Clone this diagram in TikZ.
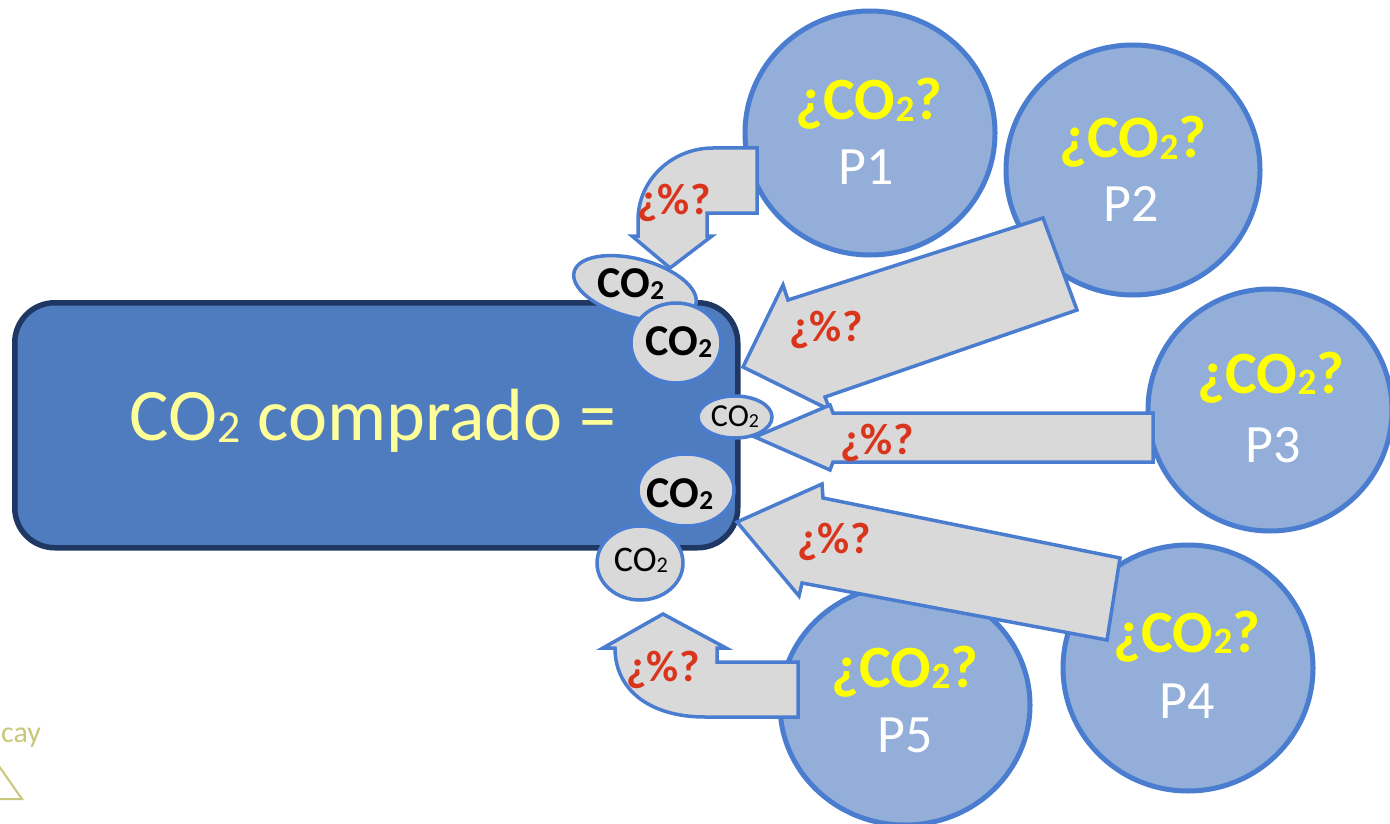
\documentclass[tikz,border=0pt]{standalone}
\usepackage{fontspec}
\setmainfont{Carlito}
\usetikzlibrary{shapes.geometric}
\definecolor{boxfill}{HTML}{4F7BBF}
\definecolor{boxdraw}{HTML}{1F3763}
\definecolor{circfill}{HTML}{93AFD9}
\definecolor{blueline}{HTML}{4A7DD0}
\definecolor{grayfill}{HTML}{D9D9D9}
\definecolor{qred}{HTML}{D9341C}
\definecolor{qyellow}{HTML}{FFFF00}
\definecolor{paleyellow}{HTML}{FFFF99}
\definecolor{paleolive}{HTML}{C9C77A}
\newcommand{\subtwo}{\raisebox{-0.03em}{\scalebox{0.62}{2}}}
\newcommand{\setfs}[1]{\fontsize{#1}{#1}\selectfont}
\begin{document}
\begin{tikzpicture}[x=1pt,y=-1pt,
  pcirc/.style={ellipse, draw=blueline, line width=5pt, fill=circfill, inner sep=0pt},
  bubble/.style={ellipse, draw=blueline, line width=3.5pt, fill=grayfill, inner sep=0pt},
  blockarrow/.style={draw=blueline, line width=3.5pt, fill=grayfill, line join=miter},
  qlabel/.style={text=qyellow, font=\setfs{60}\bfseries, anchor=base, inner sep=0pt},
  plabel/.style={text=white, font=\setfs{54}, anchor=base, inner sep=0pt},
  pct/.style={text=qred, font=\setfs{44}\bfseries, inner sep=0pt},
  bubtxt/.style={text=black, font=\setfs{44}\bfseries, inner sep=0pt},
  bubtxtlight/.style={text=black, inner sep=0pt},
]
\useasboundingbox (0,0) rectangle (1390,824);

% main box
\node[draw=boxdraw, line width=5.5pt, fill=boxfill, rounded corners=40pt,
      minimum width=723pt, minimum height=245pt, anchor=north west] (main) at (12,300) {};
\node[text=paleyellow, font=\setfs{74}, anchor=base, inner sep=0pt] (maintext) at (373,440) {CO\subtwo{} comprado =};

% product circles
\node[pcirc, minimum width=250pt, minimum height=244pt] (p1) at (870,133) {};
\node[pcirc, minimum width=254pt, minimum height=250pt] (p2) at (1133,170) {};
\node[pcirc, minimum width=244pt, minimum height=242pt] (p3) at (1270,410) {};
\node[pcirc, minimum width=250pt, minimum height=246pt] (p4) at (1188,668) {};
\node[pcirc, minimum width=250pt, minimum height=240pt] (p5) at (905,705) {};

% top bubble (under the P1 arrow)
\node[bubble, minimum width=126pt, minimum height=58pt, rotate=-15] (b1) at (635,288) {};

% block arrows
\draw[blockarrow] (757,148) -- (713,148) .. controls (672,148) and (638,180) .. (638,220)
  -- (638,236) -- (632,236) -- (670,268) -- (712,236) -- (707,236) -- (707,213) -- (757,213) -- cycle;
\draw[blockarrow] (1043,218) -- (1077,310) -- (825,397) -- (830,410) -- (743,367) -- (783,285) -- (788,300) -- cycle;
\draw[blockarrow] (1153,413) -- (833,413) -- (830,405) -- (755,437) -- (830,470) -- (833,462) -- (1153,462) -- cycle;
\draw[blockarrow] (1120,558) -- (1107,640) -- (802,583) -- (799,596) -- (737,522) -- (822,484) -- (823,498) -- cycle;
\draw[blockarrow] (798,662) -- (717,662) -- (717,648) -- (726,648) -- (663,614) -- (603,648) -- (615,648)
  .. controls (615,690) and (650,717) .. (705,717) -- (798,717) -- cycle;

% other bubbles
\node[bubble, minimum width=90pt, minimum height=80pt] (b2) at (676,343) {};
\node[bubble, minimum width=74pt, minimum height=42pt] (b3) at (735,417) {};
\node[bubble, minimum width=96pt, minimum height=72pt] (b4) at (686,490) {};
\node[bubble, minimum width=86pt, minimum height=74pt] (b5) at (640,563) {};

\node[bubtxt] (t1) at (631,284) {CO\subtwo};
\node[bubtxt] (t2) at (679,342) {CO\subtwo};
\node[bubtxtlight, font=\setfs{32}] (t3) at (735,417) {CO\subtwo};
\node[bubtxt] (t4) at (680,494) {CO\subtwo};
\node[bubtxtlight, font=\setfs{36}] (t5) at (641,560) {CO\subtwo};

% percentage labels
\node[pct] (q1) at (674,203) {¿\%?};
\node[pct] (q2) at (826,330) {¿\%?};
\node[pct] (q3) at (877,443) {¿\%?};
\node[pct] (q4) at (834,542) {¿\%?};
\node[pct] (q5) at (663,670) {¿\%?};

% circle labels
\node[qlabel] (c1) at (869,120) {¿CO\subtwo?};
\node[plabel] (n1) at (866,185) {P1};
\node[qlabel] (c2) at (1133,158) {¿CO\subtwo?};
\node[plabel] (n2) at (1131,222) {P2};
\node[qlabel] (c3) at (1271,393) {¿CO\subtwo?};
\node[plabel] (n3) at (1273,462) {P3};
\node[qlabel] (c4) at (1187,652) {¿CO\subtwo?};
\node[plabel] (n4) at (1187,718) {P4};
\node[qlabel] (c5) at (905,687) {¿CO\subtwo?};
\node[plabel] (n5) at (905,752) {P5};

% logo fragment at the left edge
\node[text=paleolive, font=\setfs{30}, anchor=base west, inner sep=0pt] (cay) at (1,742) {cay};
\draw[paleolive, line width=2pt] (-6,759) -- (22,799) -- (-6,799);
\end{tikzpicture}
\end{document}
